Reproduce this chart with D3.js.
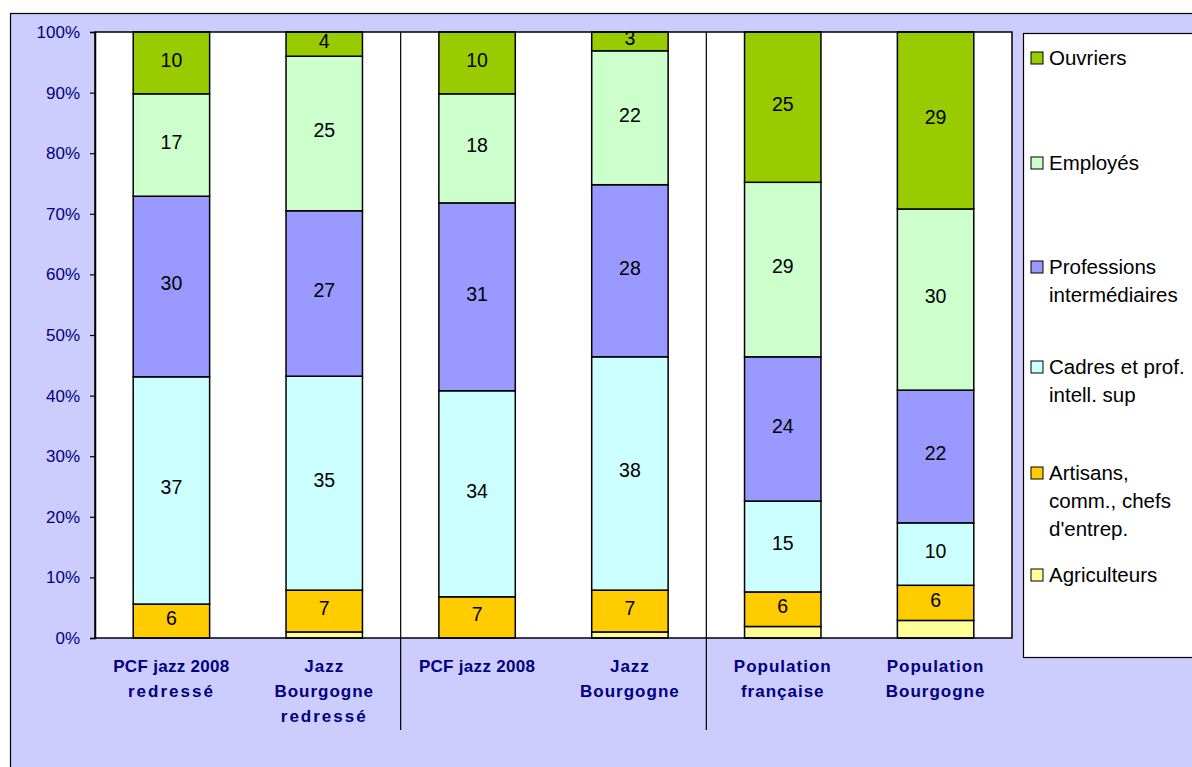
<!DOCTYPE html>
<html><head><meta charset="utf-8">
<script src="https://cdn.jsdelivr.net/npm/d3@7"></script>
<style>body{margin:0;background:#fff;}svg{display:block;font-family:"Liberation Sans",Arial,sans-serif;}</style>
</head><body><svg id="c" width="1192" height="767"></svg>
<script>
const categories = ["PCF jazz 2008\nredressé","Jazz\nBourgogne\nredressé","PCF jazz 2008","Jazz\nBourgogne","Population\nfrançaise","Population\nBourgogne"];
const seriesNames = ["Agriculteurs","Artisans, comm., chefs d'entrep.","Cadres et prof. intell. sup","Professions intermédiaires","Employés","Ouvriers"];
const legendLines = [["Agriculteurs"],["Artisans,","comm., chefs","d'entrep."],["Cadres et prof.","intell. sup"],["Professions","intermédiaires"],["Employés"],["Ouvriers"]];
const colors = ["#FFFF99","#FFCC00","#CCFFFF","#9999FF","#CCFFCC","#99CC00"];
const agriculteurs = [0, 1.0, 0, 1.0, 1.9, 2.9];
const artisans     = [5.6, 6.9, 6.8, 6.9, 5.7, 5.8];
const cadres       = [37.5, 35.3, 34.0, 38.5, 15.0, 10.3];
const professions  = [29.8, 27.3, 31.0, 28.4, 23.8, 21.9];
const employes     = [16.9, 25.5, 18.0, 22.1, 28.8, 29.9];
const ouvriers     = [10.2, 4.0, 10.2, 3.1, 24.8, 29.2];
const labelArtisans = ["6","7","7","7","6","6"];
const labelCadres   = ["37","35","34","38","15","10"];
const labelProf     = ["30","27","31","28","24","22"];
const labelEmpl     = ["17","25","18","22","29","30"];
const labelOuvr     = ["10","4","10","3","25","29"];
const yTicks = [0,0.1,0.2,0.3,0.4,0.5,0.6,0.7,0.8,0.9,1.0];

const seriesValues = [agriculteurs, artisans, cadres, professions, employes, ouvriers];
const seriesLabels = [null, labelArtisans, labelCadres, labelProf, labelEmpl, labelOuvr];

const svg = d3.select("#c");
// outer frame
svg.append("rect").attr("x",10.5).attr("y",13.5).attr("width",1300).attr("height",900)
  .attr("fill","#CCCCFF").attr("stroke","#000").attr("stroke-width",1.2);

const L=95, R=1012, T=32, B=638;
const x = d3.scaleBand().domain(d3.range(categories.length)).range([L,R]).paddingInner(0.5).paddingOuter(0.25);
const y = d3.scaleLinear().domain([0,1]).range([B,T]);

svg.append("rect").attr("x",L).attr("y",T).attr("width",R-L).attr("height",B-T).attr("fill","#fff");

// stack
const rows = categories.map((c,i)=>{const o={i}; seriesNames.forEach((s,k)=>o[k]=seriesValues[k][i]); return o;});
const stack = d3.stack().keys(d3.range(seriesNames.length)).offset(d3.stackOffsetExpand);
const stacked = stack(rows);

const g = svg.append("g");
stacked.forEach((layer,k)=>{
  g.selectAll(null).data(layer.filter(d=>d[1]-d[0]>0)).join("rect")
    .attr("x",d=>x(d.data.i)).attr("width",x.bandwidth())
    .attr("y",d=>y(d[1])).attr("height",d=>y(d[0])-y(d[1]))
    .attr("fill",colors[k]).attr("stroke","#000").attr("stroke-width",1.5);
});
stacked.forEach((layer,k)=>{
  if(!seriesLabels[k]) return;
  g.selectAll(null).data(layer).join("text")
    .attr("x",d=>x(d.data.i)+x.bandwidth()/2).attr("y",d=>y((d[0]+d[1])/2))
    .attr("dy","0.2em").attr("text-anchor","middle").attr("font-size",19.5).attr("fill","#000")
    .text(d=>seriesLabels[k][d.data.i]);
});

// separators
[2,4].forEach(i=>{
  const xs = L + i*x.step();
  svg.append("line").attr("x1",xs).attr("x2",xs).attr("y1",T).attr("y2",730).attr("stroke","#000").attr("stroke-width",1.2);
});

// plot border
svg.append("rect").attr("x",L).attr("y",T).attr("width",R-L).attr("height",B-T).attr("fill","none").attr("stroke","#000").attr("stroke-width",1.5);

// y axis
const ya = svg.append("g").attr("transform",`translate(${L},0)`)
  .call(d3.axisLeft(y).tickValues(yTicks).tickFormat(d3.format(".0%")).tickSize(5).tickPadding(10));
ya.select(".domain").attr("stroke","#000").attr("stroke-width",1.5);
ya.selectAll(".tick line").attr("stroke","#000").attr("stroke-width",1.2);
ya.selectAll(".tick text").attr("font-size",17).attr("fill","#000080").attr("font-family","Liberation Sans, Arial");

// x labels
categories.forEach((c,i)=>{
  const t = svg.append("text").attr("text-anchor","middle").attr("font-size",17).attr("font-weight","bold").attr("fill","#000080");
  c.split("\n").forEach((ln,j)=>{
    t.append("tspan").attr("x",x(i)+x.bandwidth()/2).attr("y",672+j*25)
      .attr("letter-spacing", ln==="redressé" ? 2 : (ln.startsWith("PCF") ? 0.3 : 1)).text(ln);
  });
});

// legend
svg.append("rect").attr("x",1023.5).attr("y",33.5).attr("width",300).attr("height",624).attr("fill","#fff").attr("stroke","#000").attr("stroke-width",1.2);
const legY = [575,473,367,267,163,58];
seriesNames.forEach((s,k)=>{
  svg.append("rect").attr("x",1031).attr("y",legY[k]-6).attr("width",12).attr("height",12)
    .attr("fill",colors[k]).attr("stroke","#000").attr("stroke-width",1);
  const t = svg.append("text").attr("font-size",20.5).attr("fill","#000");
  legendLines[k].forEach((ln,j)=>{
    t.append("tspan").attr("x",1049).attr("y",legY[k]+7+j*28).text(ln);
  });
});
</script></body></html>
